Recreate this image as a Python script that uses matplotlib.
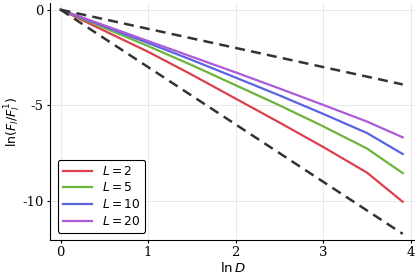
import matplotlib
matplotlib.use('Agg')
import matplotlib.pyplot as plt

# ln D sample points and ln(F_l / F_l^1)
lnD = [0, 0.5, 1, 1.5, 2, 2.5, 3, 3.5, 3.91]
f_L2 = [0, -1.1, -2.2, -3.4, -4.65, -5.9, -7.18, -8.52, -10.05]
f_L5 = [0, -0.95, -1.9, -2.9, -3.95, -5.0, -6.1, -7.26, -8.55]
f_L10 = [0, -0.87, -1.74, -2.63, -3.55, -4.48, -5.45, -6.45, -7.55]
f_L20 = [0, -0.82, -1.64, -2.46, -3.28, -4.12, -4.98, -5.85, -6.68]
labels = [r'$L = 2$', r'$L = 5$', r'$L = 10$', r'$L = 20$']

# reference slopes -1 and -3
ref_x = [0, 3.91]
ref_hi = [0, -3.91]
ref_lo = [0, -11.73]

colors = ['#dc3f4f', '#6cb43c', '#5a63e0', '#ad5ad6']

plt.rcParams['mathtext.fontset'] = 'dejavusans'

fig = plt.figure(figsize=(4.15, 2.77), dpi=100)
ax = fig.add_axes([50 / 415, 37 / 277, 365 / 415, 237 / 277])

for ys, c, lab in zip([f_L2, f_L5, f_L10, f_L20], colors, labels):
    ax.plot(lnD, ys, color=c, lw=1.6, label=lab)
ax.plot(ref_x, ref_hi, color='#333333', lw=1.8, ls=(0, (4, 2.5)))
ax.plot(ref_x, ref_lo, color='#333333', lw=1.8, ls=(0, (4, 2.5)))

ax.set_xlim(-0.12, 4.05)
ax.set_ylim(-12.05, 0.35)
ax.set_xticks([0, 1, 2, 3, 4])
ax.set_yticks([0, -5, -10])
ax.set_yticklabels(['0', '-5', '-10'])
ax.tick_params(labelsize=9.5, direction='out', length=2.5, width=0.8, pad=2)
for lab in ax.get_xticklabels() + ax.get_yticklabels():
    lab.set_family('DejaVu Serif')
ax.grid(True, color='#e6e6e6', lw=0.6)
ax.spines['top'].set_visible(False)
ax.spines['right'].set_visible(False)
ax.set_xlabel(r'$\ln D$', fontsize=9.5, labelpad=1)
ax.set_ylabel(r'$\ln(F_l / F_l^1)$', fontsize=9)
ax.yaxis.set_label_coords(-0.074, 0.5)

leg = ax.legend(loc='lower left', fontsize=8.8, frameon=True, fancybox=True,
                handlelength=2.4, borderpad=0.4, labelspacing=0.3,
                bbox_to_anchor=(0.005, 0.005))
leg.get_frame().set_edgecolor('black')
leg.get_frame().set_linewidth(0.8)
leg.get_frame().set_alpha(1)

fig.savefig('out.png', dpi=100)
